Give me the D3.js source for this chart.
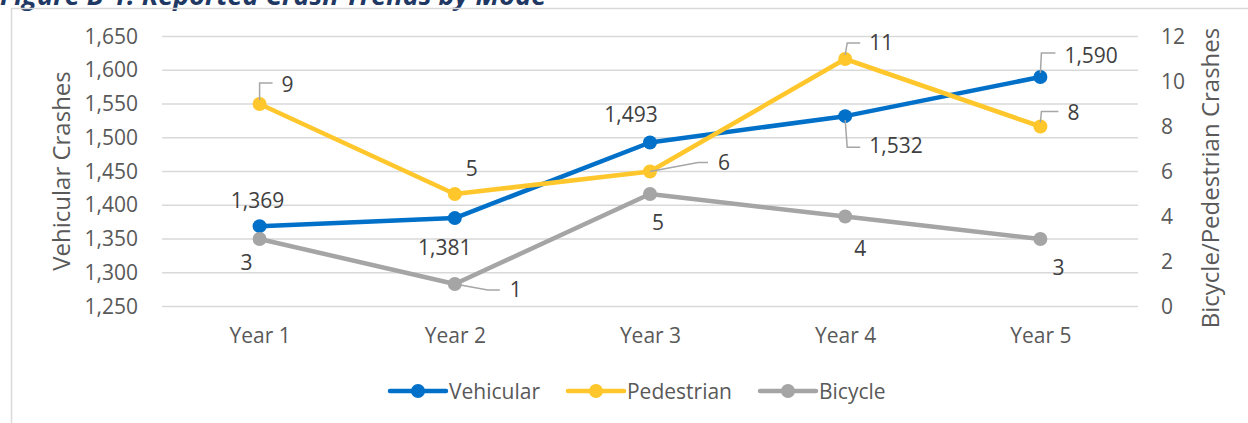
<!DOCTYPE html>
<html>
<head>
<meta charset="utf-8">
<script src="https://cdn.jsdelivr.net/npm/d3@7"></script>
<style>
  body { margin: 0; background: #fff; }
  svg { display: block; font-family: "Open Sans", sans-serif; }
</style>
</head>
<body>
<div id="chart"></div>
<script>
// data
const years = ['Year 1', 'Year 2', 'Year 3', 'Year 4', 'Year 5'];
const vehicular = [1369, 1381, 1493, 1532, 1590];
const pedestrian = [9, 5, 6, 11, 8];
const bicycle = [3, 1, 5, 4, 3];
const leftTicks = [1250, 1300, 1350, 1400, 1450, 1500, 1550, 1600, 1650];
const rightTicks = [0, 2, 4, 6, 8, 10, 12];

// label placement (offsets from the point, as Excel moved them)
const labelPos = {
  Vehicular: [
    { dx: -2, dy: -18, anchor: 'middle' },
    { dx: -10, dy: 37, anchor: 'middle' },
    { dx: -19, dy: -20, anchor: 'middle' },
    { dx: 24, dy: 37, anchor: 'start', leader: [[0, 4], [2, 31], [15, 31]] },
    { dx: 24, dy: -14, anchor: 'start', leader: [[0, -4], [1, -24], [15, -24]] },
  ],
  Pedestrian: [
    { dx: 22, dy: -12, anchor: 'start', leader: [[0, -4], [0, -21], [13, -21]] },
    { dx: 17, dy: -18, anchor: 'middle' },
    { dx: 68, dy: -1.5, anchor: 'start', leader: [[0, 0], [48, -9], [58, -9]] },
    { dx: 24, dy: -9, anchor: 'start', leader: [[0, -4], [2, -16], [15, -16]] },
    { dx: 27, dy: -6.5, anchor: 'start', leader: [[0, -4], [1, -15], [18, -15]] },
  ],
  Bicycle: [
    { dx: -13, dy: 31, anchor: 'middle' },
    { dx: 55, dy: 13, anchor: 'start', leader: [[0, 0], [33, 6], [45, 6]] },
    { dx: 8, dy: 36, anchor: 'middle' },
    { dx: 15, dy: 39.5, anchor: 'middle' },
    { dx: 18, dy: 36, anchor: 'middle' },
  ],
};

const width = 1248;
const height = 423;
const plot = { left: 162, right: 1138, top: 36.5, bottom: 306.5 };
const textColor = '#595959';
const labelColor = '#404040';
const fontSize = '21px';

const svg = d3
  .select('#chart')
  .append('svg')
  .attr('width', width)
  .attr('height', height);

// title, mostly cut off at the top of the picture (as in the reference)
svg
  .append('text')
  .attr('x', 0)
  .attr('y', 5)
  .attr('fill', '#1f3864')
  .style('font-size', '27px')
  .style('font-style', 'italic')
  .style('font-weight', 700)
  .text('Figure B-1: Reported Crash Trends by Mode');

// chart frame
svg
  .append('path')
  .attr('d', `M11.5,${height} V8.5 H${width}`)
  .attr('fill', 'none')
  .attr('stroke', '#d9d9d9')
  .attr('stroke-width', 1.5);

// scales
const x = d3.scalePoint().domain(years).range([plot.left, plot.right]).padding(0.5);
const yLeft = d3.scaleLinear().domain([1250, 1650]).range([plot.bottom, plot.top]);
const yRight = d3.scaleLinear().domain([0, 12]).range([plot.bottom, plot.top]);

// gridlines
svg
  .append('g')
  .selectAll('line')
  .data(leftTicks)
  .join('line')
  .attr('x1', plot.left)
  .attr('x2', plot.right)
  .attr('y1', d => yLeft(d))
  .attr('y2', d => yLeft(d))
  .attr('stroke', '#d9d9d9')
  .attr('stroke-width', 1.5);

function styleAxis(g) {
  g.select('.domain').remove();
  g.selectAll('text')
    .attr('fill', textColor)
    .style('font-size', fontSize)
    .style('font-family', '"Open Sans", sans-serif');
}

// left axis
svg
  .append('g')
  .attr('transform', 'translate(138,0)')
  .call(d3.axisLeft(yLeft).tickValues(leftTicks).tickSize(0).tickPadding(0).tickFormat(d3.format(',')))
  .call(styleAxis);

// right axis
svg
  .append('g')
  .attr('transform', 'translate(1161,0)')
  .call(d3.axisRight(yRight).tickValues(rightTicks).tickSize(0).tickPadding(0))
  .call(styleAxis);

// x axis labels
svg
  .append('g')
  .attr('transform', `translate(0,${plot.bottom})`)
  .call(d3.axisBottom(x).tickSize(0).tickPadding(22))
  .call(styleAxis);

// axis titles
svg
  .append('text')
  .attr('transform', 'translate(70,171) rotate(-90)')
  .attr('text-anchor', 'middle')
  .attr('fill', textColor)
  .style('font-size', '24px')
  .text('Vehicular Crashes');

svg
  .append('text')
  .attr('transform', 'translate(1219,178) rotate(-90)')
  .attr('text-anchor', 'middle')
  .attr('fill', textColor)
  .style('font-size', '24px')
  .text('Bicycle/Pedestrian Crashes');

// series
const series = [
  { name: 'Vehicular', values: vehicular, y: yLeft, color: '#0070c8', fmt: d3.format(',') },
  { name: 'Pedestrian', values: pedestrian, y: yRight, color: '#ffc72c', fmt: d3.format('d') },
  { name: 'Bicycle', values: bicycle, y: yRight, color: '#a5a5a5', fmt: d3.format('d') },
];

series.forEach(s => {
  const pts = s.values.map((v, i) => [x(years[i]), s.y(v)]);
  const g = svg.append('g');
  g.append('path')
    .attr('d', d3.line()(pts))
    .attr('fill', 'none')
    .attr('stroke', s.color)
    .attr('stroke-width', 4.5)
    .attr('stroke-linejoin', 'round')
    .attr('stroke-linecap', 'round');
  g.selectAll('circle')
    .data(pts)
    .join('circle')
    .attr('cx', d => d[0])
    .attr('cy', d => d[1])
    .attr('r', 7)
    .attr('fill', s.color);
});

// data labels and leader lines
series.forEach(s => {
  const g = svg.append('g');
  s.values.forEach((v, i) => {
    const px = x(years[i]);
    const py = s.y(v);
    const p = labelPos[s.name][i];
    if (p.leader) {
      g.append('path')
        .attr('d', d3.line()(p.leader.map(l => [px + l[0], py + l[1]])))
        .attr('fill', 'none')
        .attr('stroke', '#a6a6a6')
        .attr('stroke-width', 1.5);
    }
    g.append('text')
      .attr('x', px + p.dx)
      .attr('y', py + p.dy)
      .attr('text-anchor', p.anchor)
      .attr('fill', labelColor)
      .style('font-size', fontSize)
      .text(s.fmt(v));
  });
});

// legend
const legend = svg.append('g').attr('transform', 'translate(390,391)');
let lx = 0;
series.forEach(s => {
  const item = legend.append('g').attr('transform', `translate(${lx},0)`);
  item
    .append('line')
    .attr('x1', 0)
    .attr('x2', 56)
    .attr('stroke', s.color)
    .attr('stroke-width', 4.5)
    .attr('stroke-linecap', 'round');
  item.append('circle').attr('cx', 28).attr('r', 7).attr('fill', s.color);
  const t = item
    .append('text')
    .attr('x', 59)
    .attr('y', 7.5)
    .attr('fill', textColor)
    .style('font-size', fontSize)
    .text(s.name);
  lx += 59 + t.node().getComputedTextLength() + 28;
});
</script>
</body>
</html>
